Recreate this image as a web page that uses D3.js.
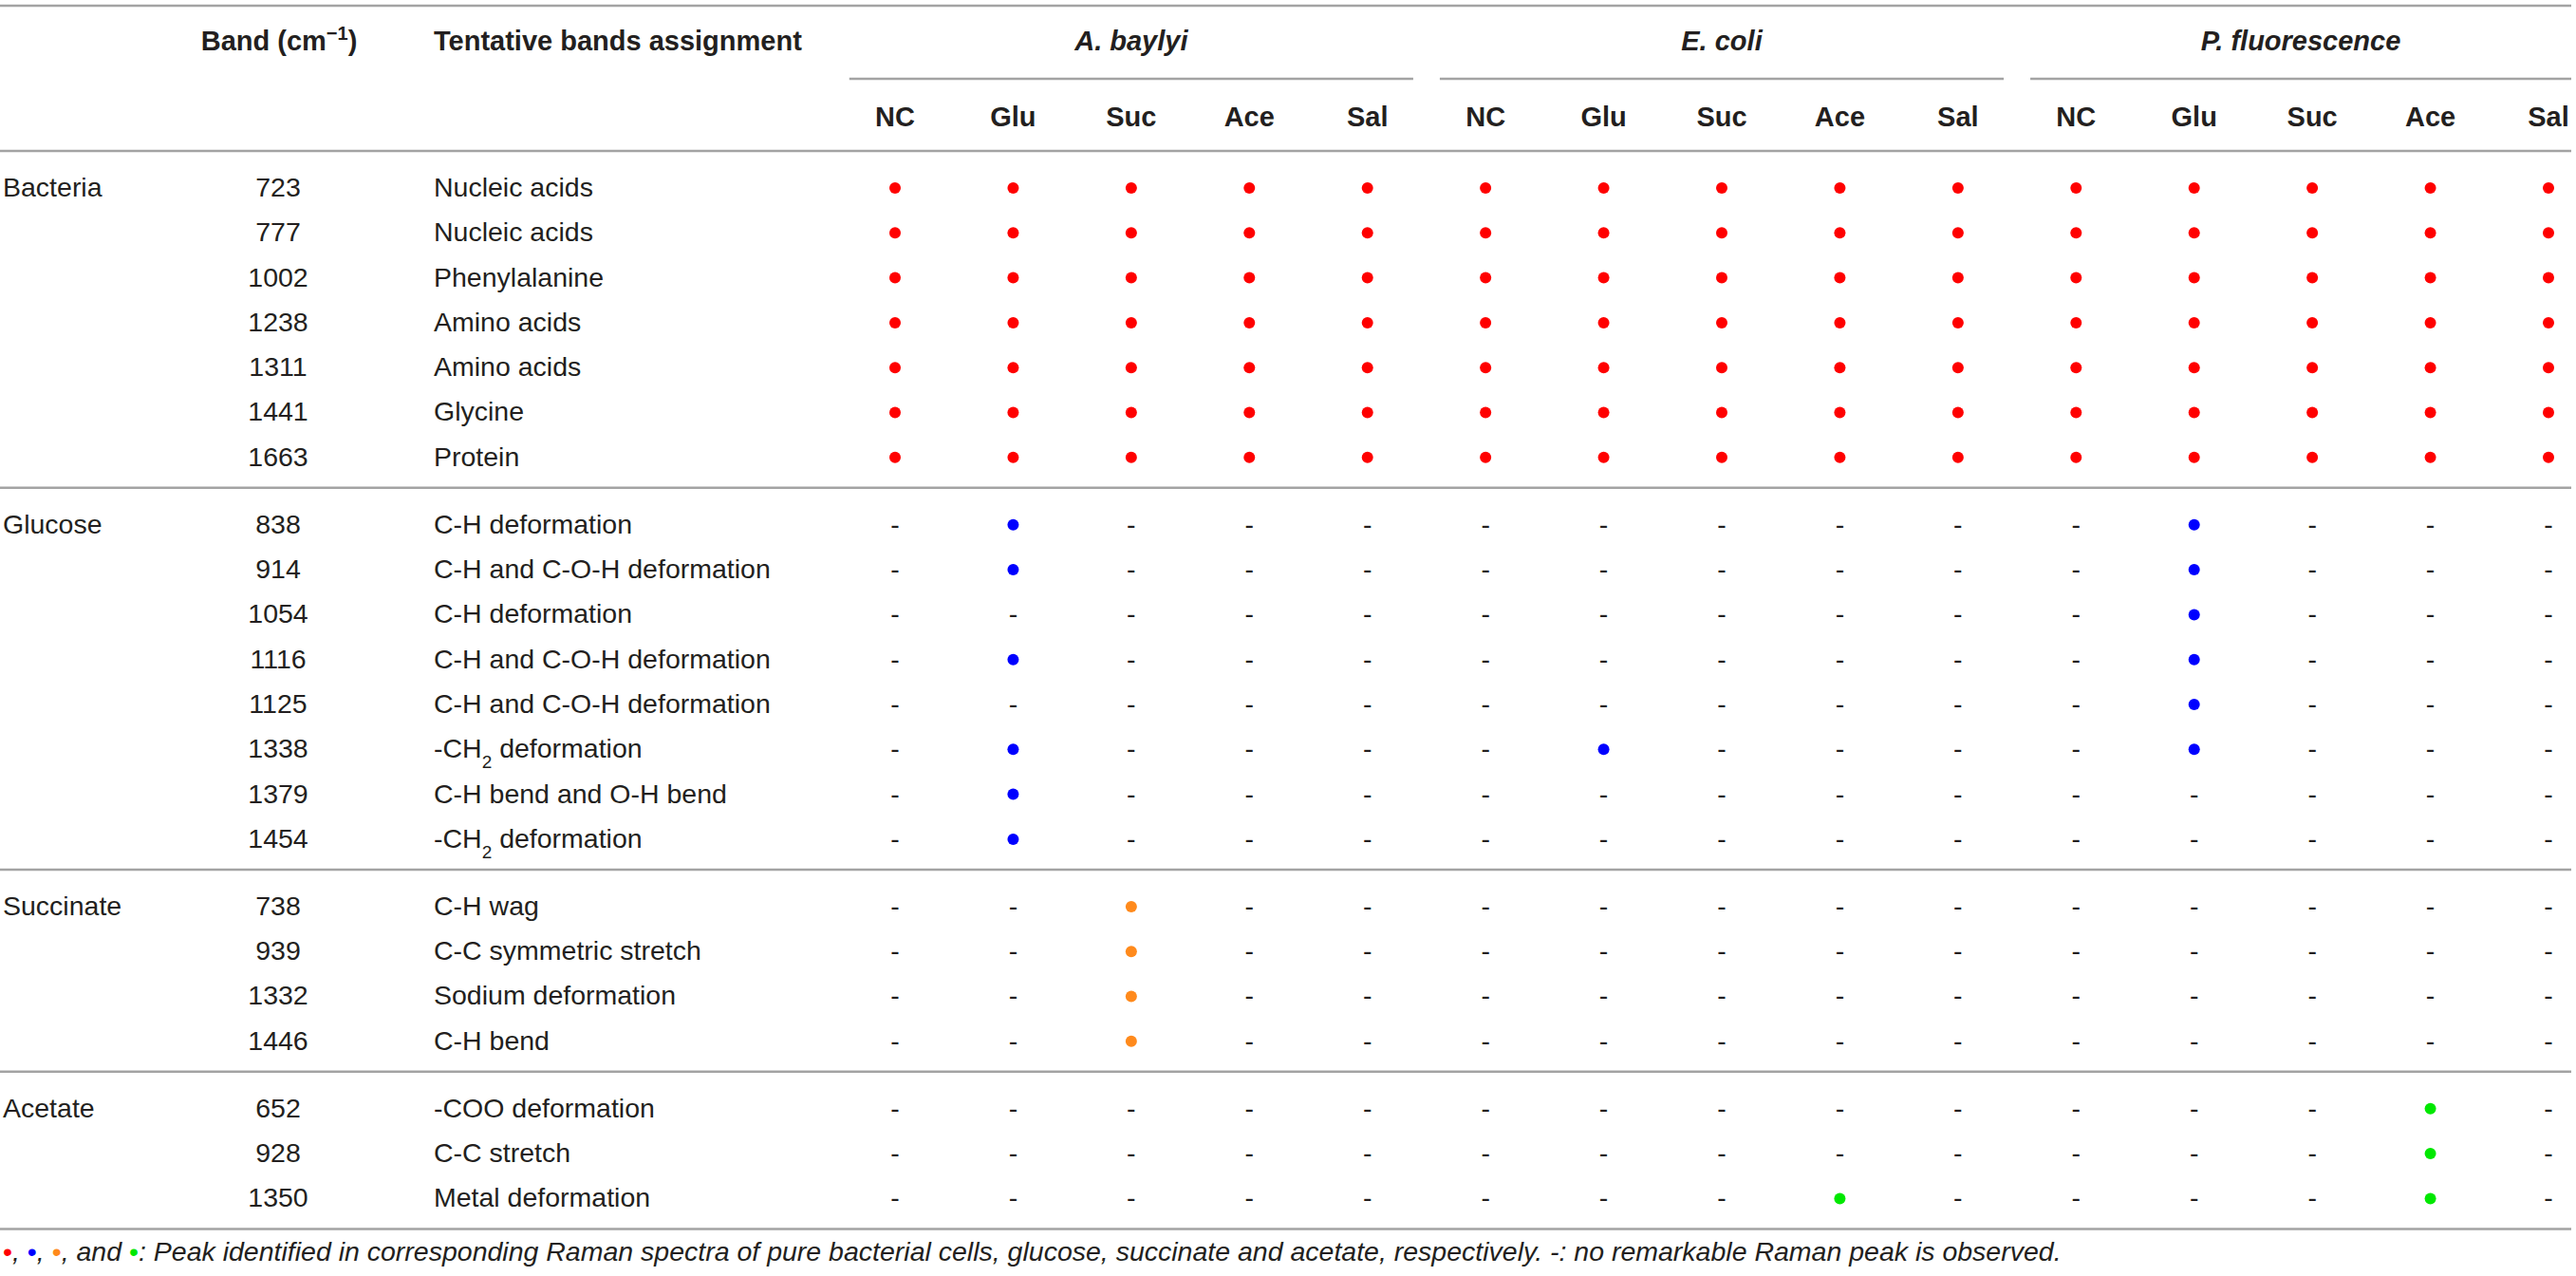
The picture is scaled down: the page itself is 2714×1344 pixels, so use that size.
<!DOCTYPE html>
<html>
<head>
<meta charset="utf-8">
<script src="https://cdn.jsdelivr.net/npm/d3@7"></script>
<style>
    body { margin: 0; background: #fff; }
    text { font-family: "Liberation Sans", Arial, Helvetica, sans-serif; fill: #231f20; }
</style>
</head>
<body>
<div id="table"></div>
<script>
var width = 2714,
    height = 1344;

// table content
var species = ["A. baylyi", "E. coli", "P. fluorescence"];
var media = ["NC", "Glu", "Suc", "Ace", "Sal"];
var sections = ["Bacteria", "Glucose", "Succinate", "Acetate"];
var sectionColors = ["#ff0000", "#0000ff", "#ff8a1c", "#00e800"];

var bacteriaBands = ["723", "777", "1002", "1238", "1311", "1441", "1663"];
var bacteriaAssign = ["Nucleic acids", "Nucleic acids", "Phenylalanine", "Amino acids", "Amino acids", "Glycine", "Protein"];
var bacteriaPeaks = [
    [1,1,1,1,1, 1,1,1,1,1, 1,1,1,1,1],
    [1,1,1,1,1, 1,1,1,1,1, 1,1,1,1,1],
    [1,1,1,1,1, 1,1,1,1,1, 1,1,1,1,1],
    [1,1,1,1,1, 1,1,1,1,1, 1,1,1,1,1],
    [1,1,1,1,1, 1,1,1,1,1, 1,1,1,1,1],
    [1,1,1,1,1, 1,1,1,1,1, 1,1,1,1,1],
    [1,1,1,1,1, 1,1,1,1,1, 1,1,1,1,1]
];

var glucoseBands = ["838", "914", "1054", "1116", "1125", "1338", "1379", "1454"];
var glucoseAssign = ["C-H deformation", "C-H and C-O-H deformation", "C-H deformation", "C-H and C-O-H deformation",
    "C-H and C-O-H deformation", "-CH_2 deformation", "C-H bend and O-H bend", "-CH_2 deformation"];
var glucosePeaks = [
    [0,1,0,0,0, 0,0,0,0,0, 0,1,0,0,0],
    [0,1,0,0,0, 0,0,0,0,0, 0,1,0,0,0],
    [0,0,0,0,0, 0,0,0,0,0, 0,1,0,0,0],
    [0,1,0,0,0, 0,0,0,0,0, 0,1,0,0,0],
    [0,0,0,0,0, 0,0,0,0,0, 0,1,0,0,0],
    [0,1,0,0,0, 0,1,0,0,0, 0,1,0,0,0],
    [0,1,0,0,0, 0,0,0,0,0, 0,0,0,0,0],
    [0,1,0,0,0, 0,0,0,0,0, 0,0,0,0,0]
];

var succinateBands = ["738", "939", "1332", "1446"];
var succinateAssign = ["C-H wag", "C-C symmetric stretch", "Sodium deformation", "C-H bend"];
var succinatePeaks = [
    [0,0,1,0,0, 0,0,0,0,0, 0,0,0,0,0],
    [0,0,1,0,0, 0,0,0,0,0, 0,0,0,0,0],
    [0,0,1,0,0, 0,0,0,0,0, 0,0,0,0,0],
    [0,0,1,0,0, 0,0,0,0,0, 0,0,0,0,0]
];

var acetateBands = ["652", "928", "1350"];
var acetateAssign = ["-COO deformation", "C-C stretch", "Metal deformation"];
var acetatePeaks = [
    [0,0,0,0,0, 0,0,0,0,0, 0,0,0,1,0],
    [0,0,0,0,0, 0,0,0,0,0, 0,0,0,1,0],
    [0,0,0,0,0, 0,0,0,1,0, 0,0,0,1,0]
];

var footnote = ": Peak identified in corresponding Raman spectra of pure bacterial cells, glucose, succinate and acetate, respectively. -: no remarkable Raman peak is observed.";

// build rows from the arrays
var allBands = [bacteriaBands, glucoseBands, succinateBands, acetateBands];
var allAssign = [bacteriaAssign, glucoseAssign, succinateAssign, acetateAssign];
var allPeaks = [bacteriaPeaks, glucosePeaks, succinatePeaks, acetatePeaks];

var rows = [];
allBands.forEach(function (bands, s) {
    bands.forEach(function (b, i) {
        rows.push({
            section: s,
            first: i == 0,
            band: b,
            assign: allAssign[s][i],
            cells: allPeaks[s][i].map(function (p, j) { return { peak: p, col: j }; })
        });
    });
});

var tableRight = 2709,
    bodyFont = 28.5,
    headFont = 29;

var svg = d3.select("#table")
    .append("svg")
    .attr("width", width)
    .attr("height", height);

svg.append("rect").attr("width", width).attr("height", height).attr("fill", "#fff");

// columns
var x = d3.scalePoint()
    .domain(d3.range(species.length * media.length))
    .range([943, 2685]);
var step = x.step();

// rows: index -> y, each new section pushes down by a gap
var rowY = d3.scaleLinear().domain([0, 1]).range([197, 244.3]);
var sectionGap = 23.7;
function yPos(d, i) {
    return rowY(i) + d.section * sectionGap;
}

function hline(y, x0, x1) {
    svg.append("line")
        .attr("x1", x0).attr("x2", x1)
        .attr("y1", y).attr("y2", y)
        .style("stroke", "#a3a3a3")
        .style("stroke-width", 2.5);
}

// header
hline(6, 0, tableRight);
hline(159, 0, tableRight);

var bandHead = svg.append("text")
    .attr("x", 294)
    .attr("y", 43)
    .attr("dy", "0.35em")
    .attr("text-anchor", "middle")
    .style("font-size", headFont + "px")
    .style("font-weight", "bold");
bandHead.append("tspan").text("Band (cm");
bandHead.append("tspan").text("\u22121").attr("baseline-shift", "super").style("font-size", "20px");
bandHead.append("tspan").text(")");

svg.append("text")
    .attr("x", 457)
    .attr("y", 43)
    .attr("dy", "0.35em")
    .style("font-size", headFont + "px")
    .style("font-weight", "bold")
    .text("Tentative bands assignment");

species.forEach(function (sp, g) {
    var x0 = x(g * 5) - step / 2 + 14,
        x1 = Math.min(x(g * 5 + 4) + step / 2 - 14, tableRight);
    hline(83, x0, x1);
    svg.append("text")
        .attr("x", (x0 + x1) / 2)
        .attr("y", 43)
        .attr("dy", "0.35em")
        .attr("text-anchor", "middle")
        .style("font-size", headFont + "px")
        .style("font-weight", "bold")
        .style("font-style", "italic")
        .text(sp);
});

svg.append("g")
    .selectAll("text")
    .data(d3.range(15))
    .enter()
    .append("text")
    .attr("x", function (d) { return x(d); })
    .attr("y", 123)
    .attr("dy", "0.35em")
    .attr("text-anchor", "middle")
    .style("font-size", headFont + "px")
    .style("font-weight", "bold")
    .text(function (d) { return media[d % 5]; });

// section separators
var lastRows = [];
rows.forEach(function (d, i) {
    if (i == rows.length - 1 || rows[i + 1].section != d.section) lastRows.push(yPos(d, i));
});
lastRows.forEach(function (y) { hline(y + 33, 0, tableRight); });

// body rows
var rowG = svg.append("g")
    .selectAll("g")
    .data(rows)
    .enter()
    .append("g")
    .attr("transform", function (d, i) { return "translate(0," + yPos(d, i) + ")"; });

rowG.filter(function (d) { return d.first; })
    .append("text")
    .attr("x", 3)
    .attr("dy", "0.35em")
    .style("font-size", bodyFont + "px")
    .text(function (d) { return sections[d.section]; });

rowG.append("text")
    .attr("x", 293)
    .attr("dy", "0.35em")
    .attr("text-anchor", "middle")
    .style("font-size", bodyFont + "px")
    .text(function (d) { return d.band; });

rowG.append("text")
    .attr("x", 457)
    .attr("dy", "0.35em")
    .style("font-size", bodyFont + "px")
    .each(function (d) {
        var t = d3.select(this);
        var parts = d.assign.split("_");
        if (parts.length == 1) {
            t.text(d.assign);
        } else {
            // "-CH_2 deformation" -> subscript 2
            t.append("tspan").text(parts[0]);
            t.append("tspan").text(parts[1].charAt(0))
                .attr("baseline-shift", "sub").style("font-size", "19px");
            t.append("tspan").text(parts[1].slice(1));
        }
    });

// cells: dot where a peak was found, dash otherwise
rowG.each(function (d) {
    var g = d3.select(this);
    g.selectAll("circle")
        .data(d.cells.filter(function (c) { return c.peak == 1; }))
        .enter()
        .append("circle")
        .attr("cx", function (c) { return x(c.col); })
        .attr("cy", 1)
        .attr("r", 6)
        .attr("fill", sectionColors[d.section]);
    g.selectAll(".dash")
        .data(d.cells.filter(function (c) { return c.peak == 0; }))
        .enter()
        .append("text")
        .attr("class", "dash")
        .attr("x", function (c) { return x(c.col); })
        .attr("dy", "0.35em")
        .attr("text-anchor", "middle")
        .style("font-size", bodyFont + "px")
        .text("-");
});

// footnote
var note = svg.append("text")
    .attr("x", 3)
    .attr("y", 1318)
    .attr("dy", "0.35em")
    .style("font-size", "28.5px")
    .style("font-style", "italic");
sectionColors.forEach(function (c, i) {
    note.append("tspan").text("\u2022").style("fill", c).style("font-style", "normal");
    if (i < 2) note.append("tspan").text(", ");
    else if (i == 2) note.append("tspan").text(", and ");
});
note.append("tspan").text(footnote);
</script>
</body>
</html>
